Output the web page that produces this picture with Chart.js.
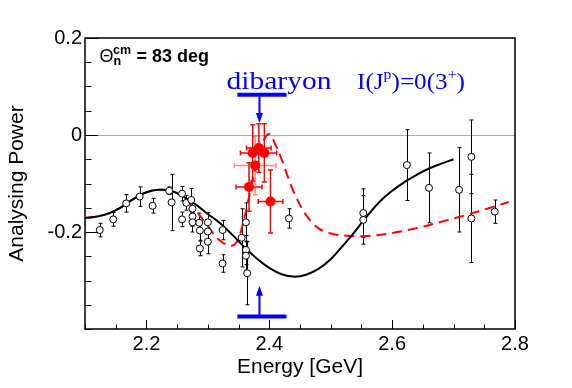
<!DOCTYPE html>
<html>
<head>
<meta charset="utf-8">
<script src="https://cdn.jsdelivr.net/npm/chart.js@4"></script>
<style>
  body { margin: 0; background: #fff; }
</style>
</head>
<body>
<canvas id="myChart" width="572" height="388"></canvas>
<script>
// open circles (data, black)
let blackX = [2.124, 2.146, 2.167, 2.189, 2.210, 2.237, 2.241, 2.258, 2.258, 2.265, 2.273, 2.275, 2.275, 2.275,
              2.286, 2.287, 2.287, 2.300, 2.300, 2.300, 2.324, 2.324, 2.355, 2.362, 2.362, 2.362, 2.364,
              2.432, 2.553, 2.553, 2.624, 2.660, 2.709, 2.729, 2.729, 2.767];
let blackY = [-0.196, -0.174, -0.141, -0.127, -0.146, -0.115, -0.139, -0.121, -0.174, -0.140, -0.134, -0.152, -0.168, -0.180,
              -0.181, -0.197, -0.234, -0.180, -0.199, -0.220, -0.196, -0.265, -0.212, -0.180, -0.237, -0.249, -0.285,
              -0.172, -0.161, -0.175, -0.062, -0.109, -0.113, -0.045, -0.172, -0.158];
let blackErr = [0.014, 0.014, 0.018, 0.020, 0.015, 0.008, 0.058, 0.015, 0.015, 0.015, 0.024, 0.020, 0.020, 0.020,
                0.020, 0.020, 0.015, 0.020, 0.020, 0.025, 0.020, 0.018, 0.060, 0.040, 0.030, 0.030, 0.065,
                0.020, 0.050, 0.050, 0.073, 0.072, 0.087, 0.076, 0.091, 0.024];

// new points (red, filled)
let redX = [2.367, 2.377, 2.373, 2.383, 2.392, 2.402];
let redY = [-0.107, -0.063, -0.037, -0.027, -0.037, -0.137];
let redXErr = [0.021, 0.034, 0.020, 0.020, 0.020, 0.020];
let redYErr = [0.050, 0.060, 0.058, 0.050, 0.060, 0.065];

// solution without resonance (black line)
let fitX = [2.10, 2.12, 2.14, 2.16, 2.18, 2.20, 2.22, 2.24, 2.26, 2.28, 2.30, 2.32, 2.34, 2.36, 2.38, 2.40,
            2.42, 2.44, 2.46, 2.48, 2.50, 2.52, 2.54, 2.56, 2.58, 2.60, 2.62, 2.64, 2.66, 2.68, 2.70];
let fitY = [-0.171, -0.168, -0.161, -0.148, -0.131, -0.118, -0.113, -0.115, -0.127, -0.143, -0.163, -0.182, -0.206, -0.232, -0.255, -0.274,
            -0.287, -0.292, -0.288, -0.276, -0.256, -0.228, -0.198, -0.166, -0.137, -0.115, -0.097, -0.082, -0.069, -0.059, -0.050];

// solution with dibaryon (red dashed)
let dibX = [2.10, 2.12, 2.14, 2.16, 2.18, 2.20, 2.22, 2.24, 2.26, 2.28, 2.30, 2.32, 2.34, 2.35, 2.36, 2.37, 2.38, 2.39, 2.40,
            2.41, 2.42, 2.43, 2.44, 2.46, 2.48, 2.50, 2.53, 2.56, 2.60, 2.64, 2.68, 2.72, 2.76, 2.79];
let dibY = [-0.171, -0.168, -0.161, -0.148, -0.131, -0.118, -0.113, -0.115, -0.128, -0.155, -0.188, -0.218, -0.228, -0.212, -0.168, -0.110, -0.055, -0.014, 0.002,
            -0.020, -0.050, -0.085, -0.118, -0.165, -0.192, -0.203, -0.208, -0.208, -0.202, -0.192, -0.179, -0.165, -0.150, -0.138];

let xLabels = [2.2, 2.4, 2.6, 2.8];
let yLabels = [0.2, 0, -0.2];

// arrow marks: energy of the resonance and its width, y of bars and arrow tips
let arrowE = 2.384;
let barE = [2.348, 2.428];
let topBar = [0.083, 0.025];
let bottomBar = [-0.374, -0.311];

const sans = "'Liberation Sans', Arial, sans-serif";
const serif = "'Liberation Serif', 'Times New Roman', serif";

function isLabel(v, list) {
    return list.some(l => Math.abs(l - v) < 1e-6);
}

function pts(xs, ys) {
    return xs.map((x, i) => ({x: x, y: ys[i]}));
}

const decorations = {
    id: 'decorations',
    beforeDatasetsDraw(chart) {
        const ctx = chart.ctx, a = chart.chartArea;
        const xs = chart.scales.x, ys = chart.scales.y;
        ctx.save();
        // y = 0 line
        let y0 = Math.round(ys.getPixelForValue(0)) + 0.5;
        ctx.strokeStyle = '#aaaaaa';
        ctx.lineWidth = 1;
        ctx.beginPath();
        ctx.moveTo(a.left, y0);
        ctx.lineTo(a.right, y0);
        ctx.stroke();

        // black error bars
        ctx.strokeStyle = '#000';
        blackX.forEach((v, i) => {
            let px = Math.round(xs.getPixelForValue(v)) + 0.5;
            let top = ys.getPixelForValue(blackY[i] + blackErr[i]);
            let bot = ys.getPixelForValue(blackY[i] - blackErr[i]);
            ctx.beginPath();
            ctx.moveTo(px, top); ctx.lineTo(px, bot);
            ctx.moveTo(px - 2, top); ctx.lineTo(px + 2, top);
            ctx.moveTo(px - 2, bot); ctx.lineTo(px + 2, bot);
            ctx.stroke();
        });

        // red error bars
        ctx.lineWidth = 1.5;
        redX.forEach((v, i) => {
            ctx.strokeStyle = i == 1 ? 'rgba(255,60,60,0.6)' : '#ff0000';
            let px = xs.getPixelForValue(v);
            let py = ys.getPixelForValue(redY[i]);
            let top = ys.getPixelForValue(redY[i] + redYErr[i]);
            let bot = ys.getPixelForValue(redY[i] - redYErr[i]);
            let l = xs.getPixelForValue(v - redXErr[i]);
            let r = xs.getPixelForValue(v + redXErr[i]);
            ctx.beginPath();
            ctx.moveTo(px, top); ctx.lineTo(px, bot);
            ctx.moveTo(px - 2.5, top); ctx.lineTo(px + 2.5, top);
            ctx.moveTo(px - 2.5, bot); ctx.lineTo(px + 2.5, bot);
            ctx.moveTo(l, py); ctx.lineTo(r, py);
            ctx.moveTo(l, py - 2.5); ctx.lineTo(l, py + 2.5);
            ctx.moveTo(r, py - 2.5); ctx.lineTo(r, py + 2.5);
            ctx.stroke();
        });
        ctx.restore();
    },
    afterDraw(chart) {
        const ctx = chart.ctx, a = chart.chartArea;
        const xs = chart.scales.x, ys = chart.scales.y;
        ctx.save();

        // frame
        ctx.strokeStyle = '#000';
        ctx.lineWidth = 1.5;
        ctx.strokeRect(a.left, a.top, a.right - a.left, a.bottom - a.top);

        // inward ticks
        ctx.lineWidth = 1;
        ctx.beginPath();
        xs.ticks.forEach(t => {
            let px = Math.round(xs.getPixelForValue(t.value)) + 0.5;
            let len = isLabel(t.value, xLabels) ? 9 : 4.5;
            ctx.moveTo(px, a.bottom);
            ctx.lineTo(px, a.bottom - len);
        });
        ys.ticks.forEach(t => {
            let py = Math.round(ys.getPixelForValue(t.value)) + 0.5;
            let len = isLabel(t.value, yLabels) ? 13 : 6.5;
            ctx.moveTo(a.left, py);
            ctx.lineTo(a.left + len, py);
        });
        ctx.stroke();

        // angle label
        let tx = a.left + 14.5, ty = a.top + 24;
        ctx.fillStyle = '#000';
        ctx.textBaseline = 'alphabetic';
        ctx.textAlign = 'left';
        ctx.font = '18px ' + sans;
        ctx.fillText('\u0398', tx, ty);
        ctx.font = 'bold 12.5px ' + sans;
        ctx.fillText('cm', tx + 13.5, ty - 8.5);
        ctx.fillText('n', tx + 14, ty + 3);
        ctx.font = 'bold 18px ' + sans;
        ctx.fillText('= 83 deg', tx + 37, ty);

        // "dibaryon"
        ctx.fillStyle = '#0000ff';
        ctx.font = '25px ' + serif;
        let w = ctx.measureText('dibaryon').width;
        ctx.save();
        ctx.translate(226.5, 89);
        ctx.scale(105 / w, 1);
        ctx.fillText('dibaryon', 0, 0);
        ctx.restore();

        // I(J^p)=0(3^+)
        let parts = [['I(J', 0, 24], ['p', -10, 15], [')=0(3', 0, 24], ['+', -10, 15], [')', 0, 24]];
        let total = 0;
        parts.forEach(p => { ctx.font = p[2] + 'px ' + serif; total += ctx.measureText(p[0]).width; });
        ctx.save();
        ctx.translate(357, 88.5);
        ctx.scale(108 / total, 1);
        let cx = 0;
        parts.forEach(p => {
            ctx.font = p[2] + 'px ' + serif;
            ctx.fillText(p[0], cx, p[1]);
            cx += ctx.measureText(p[0]).width;
        });
        ctx.restore();

        // arrows and bars
        ctx.strokeStyle = '#0000ff';
        let ax = xs.getPixelForValue(arrowE);
        let b0 = xs.getPixelForValue(barE[0]), b1 = xs.getPixelForValue(barE[1]);
        [topBar, bottomBar].forEach(bar => {
            let by = ys.getPixelForValue(bar[0]);
            let tip = ys.getPixelForValue(bar[1]);
            let dir = tip > by ? 1 : -1;
            ctx.lineWidth = 4;
            ctx.beginPath();
            ctx.moveTo(b0, by); ctx.lineTo(b1, by);
            ctx.stroke();
            ctx.lineWidth = 2;
            ctx.beginPath();
            ctx.moveTo(ax, by); ctx.lineTo(ax, tip - dir * 8);
            ctx.stroke();
            ctx.beginPath();
            ctx.moveTo(ax, tip);
            ctx.lineTo(ax - 3.5, tip - dir * 10);
            ctx.lineTo(ax + 3.5, tip - dir * 10);
            ctx.closePath();
            ctx.fill();
        });
        ctx.restore();
    }
};

let myChart = document.getElementById("myChart").getContext('2d');
let plot = new Chart(myChart, {
    type: 'scatter',
    data: {
        datasets: [
            {
                label: 'with dibaryon',
                type: 'line',
                data: pts(dibX, dibY),
                borderColor: '#ff0000',
                borderWidth: 2,
                borderDash: [10, 6],
                pointRadius: 0,
                tension: 0.4,
                fill: false,
                order: 4
            },
            {
                label: 'without dibaryon',
                type: 'line',
                data: pts(fitX, fitY),
                borderColor: '#000',
                borderWidth: 2,
                pointRadius: 0,
                tension: 0.4,
                fill: false,
                order: 3
            },
            {
                label: 'previous data',
                data: pts(blackX, blackY),
                pointStyle: 'circle',
                pointRadius: 3.5,
                borderWidth: 1,
                borderColor: '#000',
                backgroundColor: '#fff',
                order: 2
            },
            {
                label: 'new data',
                data: pts(redX, redY),
                pointStyle: 'circle',
                pointRadius: 5,
                borderWidth: 0,
                backgroundColor: '#ff0000',
                order: 1
            }
        ]
    },
    options: {
        responsive: false,
        animation: false,
        devicePixelRatio: 1,
        layout: {
            padding: {top: 38, right: 57, left: 0, bottom: 0}
        },
        plugins: {
            legend: {display: false},
            tooltip: {enabled: false}
        },
        scales: {
            x: {
                type: 'linear',
                min: 2.1,
                max: 2.8,
                afterFit: s => { s.height = 59; },
                grid: {display: false, drawTicks: false},
                border: {display: false},
                ticks: {
                    stepSize: 0.05,
                    autoSkip: false,
                    maxRotation: 0,
                    padding: 3,
                    color: '#000',
                    font: {family: sans, size: 20},
                    callback: v => isLabel(v, xLabels) ? v.toFixed(1) : ''
                },
                title: {
                    display: true,
                    text: 'Energy [GeV]',
                    color: '#000',
                    font: {family: sans, size: 21},
                    padding: {top: 0, bottom: 8}
                }
            },
            y: {
                min: -0.4,
                max: 0.2,
                afterFit: s => { s.width = 85; },
                grid: {display: false, drawTicks: false},
                border: {display: false},
                ticks: {
                    stepSize: 0.05,
                    autoSkip: false,
                    padding: 3,
                    color: '#000',
                    font: {family: sans, size: 20},
                    callback: v => isLabel(v, yLabels) ? (Math.abs(v) < 1e-6 ? '0' : v.toFixed(1)) : ''
                },
                title: {
                    display: true,
                    text: 'Analysing Power',
                    color: '#000',
                    font: {family: sans, size: 21},
                    padding: {top: 5, bottom: 0}
                }
            }
        }
    },
    plugins: [decorations]
});
</script>
</body>
</html>
